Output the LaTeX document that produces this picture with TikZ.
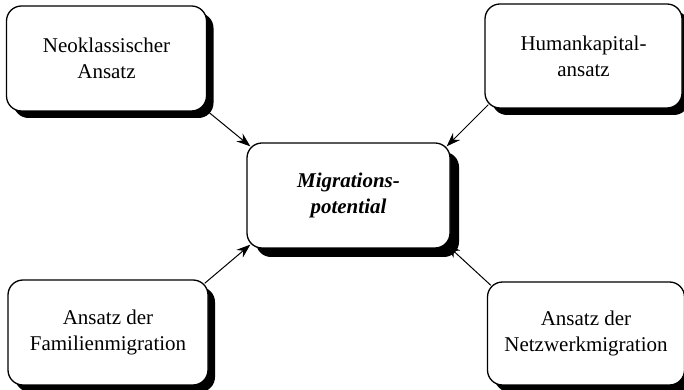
\documentclass[tikz,border=0pt]{standalone}
\usepackage{fontspec}
\setmainfont{Liberation Serif}
\usetikzlibrary{calc}
\usetikzlibrary{shadows,arrows.meta}

\tikzset{
	kasten/.style={draw,line width=1.3pt,rounded corners=15pt,fill=white,
		minimum width=200pt,minimum height=105pt,align=center,
		font=\fontsize{21}{26}\selectfont,
		drop shadow={shadow xshift=#1,shadow yshift=-#1,fill=black,opacity=1}},
	kasten/.default=7pt,
	pfeil/.style={line width=1pt,-{Stealth[length=14pt,width=10pt]}}
}

\begin{document}
\begin{tikzpicture}[x=1pt,y=1pt]
			\useasboundingbox (0,0) rectangle (684,390);
			%Kästen
			\node[kasten] (neo) at (106.5,331.5) {Neoklassischer\\Ansatz};
			\node[kasten,minimum width=197pt,minimum height=104pt] (hum) at (583.5,334) {Humankapital-\\ansatz};
			\node[kasten=9pt,minimum width=203pt,font=\fontsize{21}{26}\selectfont\bfseries\itshape] (mig) at (348.5,194.5) {Migrations-\\potential};
			\node[kasten] (fam) at (108,57.5) {Ansatz der\\Familienmigration};
			\node[kasten,minimum width=197pt,minimum height=103pt] (netz) at (586,56.5) {Ansatz der\\Netzwerkmigration};
			%Pfeile
			\draw[pfeil] ($(neo.south east)+(-4,4)$) -- ($(mig.north west)+(4,-4)$);
			\draw[pfeil] ($(hum.south west)+(4,4)$) -- ($(mig.north east)+(-4,-4)$);
			\draw[pfeil] ($(fam.north east)+(-4,-4)$) -- ($(mig.south west)+(4,4)$);
			\draw[pfeil] ($(netz.north west)+(4,-4)$) -- ($(mig.south east)+(-4,4)$);
		\end{tikzpicture}
\end{document}
